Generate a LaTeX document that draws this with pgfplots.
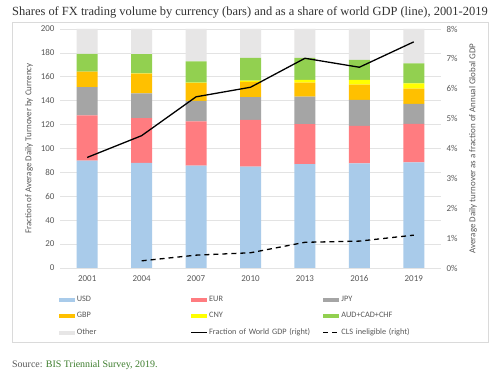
\documentclass[border=0pt]{standalone}
\usepackage{fontspec}
\setmainfont{Carlito}
\newfontfamily\titlefont{Liberation Serif}
\usepackage{pgfplots}
\usepackage{pgfplotstable}
\pgfplotsset{compat=1.18}
\definecolor{cUSD}{HTML}{A9CBEA}
\definecolor{cEUR}{HTML}{FF7C80}
\definecolor{cJPY}{HTML}{A5A5A5}
\definecolor{cGBP}{HTML}{FFC000}
\definecolor{cCNY}{HTML}{FFFF00}
\definecolor{cACC}{HTML}{92D050}
\definecolor{cOther}{HTML}{E7E6E6}
\definecolor{gridgray}{HTML}{E3E3E3}
\definecolor{framegray}{HTML}{DADADA}
\definecolor{ticktext}{HTML}{595959}
\definecolor{titlegray}{HTML}{333333}
\definecolor{srcgreen}{HTML}{3E7E2E}
\pgfplotsset{
  mybarlegend/.style={legend image code/.code={\fill[##1,draw=none] (0bp,-2bp) rectangle (16bp,2bp);}},
  mylinelegend/.style={legend image code/.code={\draw[##1] (0bp,0bp) -- (16bp,0bp);}},
}
\pgfplotstableread{
x USD EUR JPY GBP CNY ACC Other
0 89.9 37.9 23.5 13.0 0.0 14.8 20.9
1 88.0 37.4 20.8 16.5 0.1 16.2 21.0
2 85.6 37.0 17.2 14.9 0.5 17.7 27.1
3 84.9 39.0 19.0 12.9 0.9 19.2 24.1
4 87.0 33.4 23.0 11.8 2.2 18.4 24.2
5 87.6 31.4 21.6 12.8 4.0 16.8 25.8
6 88.3 32.3 16.8 12.8 4.3 16.8 28.7
}\bars
\begin{document}
\begin{tikzpicture}
\path[use as bounding box, fill=white] (0bp,0bp) rectangle (500bp,375bp);
\draw[framegray, line width=0.6pt] (12bp,33bp) rectangle (488bp,353bp);
\node[anchor=west, inner sep=0pt, text=titlegray, font=\titlefont\fontsize{12.5}{14}\selectfont] at (12bp,363bp) {Shares of FX trading volume by currency (bars) and as a share of world GDP (line), 2001-2019};
\node[anchor=west, inner sep=0pt, font=\titlefont\fontsize{10}{12}\selectfont] at (12bp,10bp) {\textcolor{ticktext}{Source:} \textcolor{srcgreen}{BIS Triennial Survey, 2019.}};
\begin{axis}[
  at={(60bp,107bp)}, anchor=south west, scale only axis,
  width=381bp, height=239bp,
  ybar stacked, bar width=21bp,
  xmin=-0.5, xmax=6.5, ymin=0, ymax=200,
  xtick={0,...,6}, xticklabels={2001,2004,2007,2010,2013,2016,2019},
  ytick={0,20,...,200},
  ymajorgrids, grid style={gridgray, line width=0.6pt},
  axis line style={draw=none}, tick style={draw=none},
  /pgf/number format/assume math mode=true,
  ticklabel style={font=\fontsize{9}{10}\selectfont, text=ticktext},
  yticklabel style={xshift=-2bp},
  xticklabel style={yshift=-4bp},
  ylabel={Fraction of Average Daily Turnover by Currency},
  ylabel style={at={(axis description cs:-0.081,0.5)}, anchor=center, font=\fontsize{9}{10}\selectfont, text=ticktext},
  legend columns=3, legend cell align=left,
  legend style={at={(axis description cs:-0.01,-0.102)}, anchor=north west, draw=none, fill=none,
    font=\fontsize{8.3}{9}\selectfont, text=ticktext,
    nodes={text width=112bp, inner sep=1.5bp},
    row sep=6.5bp},
]
\addplot[fill=cUSD, draw=none, mybarlegend] table[x=x, y=USD] {\bars};
\addlegendentry{USD}
\addplot[fill=cEUR, draw=none, mybarlegend] table[x=x, y=EUR] {\bars};
\addlegendentry{EUR}
\addplot[fill=cJPY, draw=none, mybarlegend] table[x=x, y=JPY] {\bars};
\addlegendentry{JPY}
\addplot[fill=cGBP, draw=none, mybarlegend] table[x=x, y=GBP] {\bars};
\addlegendentry{GBP}
\addplot[fill=cCNY, draw=none, mybarlegend] table[x=x, y=CNY] {\bars};
\addlegendentry{CNY}
\addplot[fill=cACC, draw=none, mybarlegend] table[x=x, y=ACC] {\bars};
\addlegendentry{AUD+CAD+CHF}
\addplot[fill=cOther, draw=none, mybarlegend] table[x=x, y=Other] {\bars};
\addlegendentry{Other}
\addlegendimage{black, line width=1.3pt, mylinelegend}
\addlegendentry{Fraction of World GDP (right)}
\addlegendimage{black, line width=1.3pt, dash pattern=on 5bp off 4bp, mylinelegend}
\addlegendentry{CLS ineligible (right)}
\end{axis}
\begin{axis}[
  at={(60bp,107bp)}, anchor=south west, scale only axis,
  width=381bp, height=239bp,
  xmin=-0.5, xmax=6.5, ymin=0, ymax=8,
  ytick={0,...,8}, xtick=\empty,
  yticklabel pos=right,
  yticklabel={\pgfmathprintnumber{\tick}\%},
  axis line style={draw=none}, tick style={draw=none},
  /pgf/number format/assume math mode=true,
  ticklabel style={font=\fontsize{9}{10}\selectfont, text=ticktext},
  yticklabel style={xshift=2bp},
  ylabel={Average Daily turnover as a fraction of Annual Global GDP},
  ylabel style={at={(axis description cs:1.084,0.5)}, anchor=center, rotate=0, font=\fontsize{9}{10}\selectfont, text=ticktext},
]
\addplot[black, line width=1.3pt] coordinates {(0,3.70) (1,4.43) (2,5.73) (3,6.05) (4,7.02) (5,6.72) (6,7.57)};
\addplot[black, line width=1.3pt, dash pattern=on 5bp off 4bp] coordinates {(1,0.24) (2,0.43) (3,0.51) (4,0.86) (5,0.90) (6,1.10)};
\end{axis}
\end{tikzpicture}
\end{document}
